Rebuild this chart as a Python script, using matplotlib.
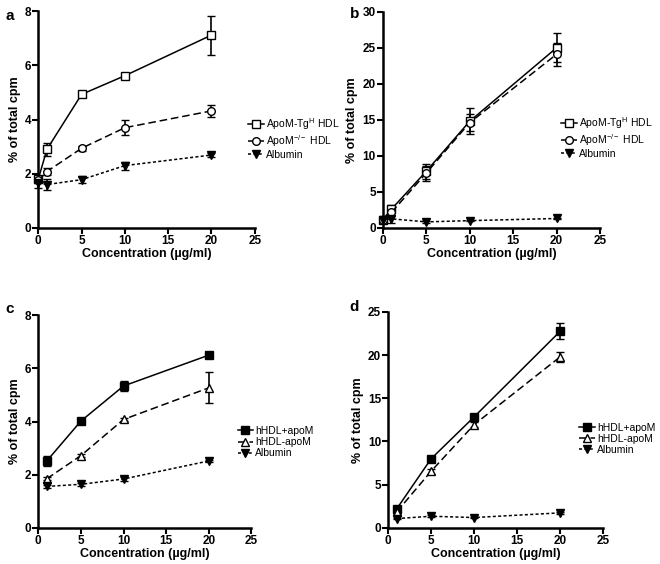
import matplotlib
matplotlib.use("Agg")
import matplotlib.pyplot as plt

plt.rcParams['font.family'] = ['Liberation Sans', 'DejaVu Sans']

# panel a
xa = [0, 1, 5, 10, 20]
a_tg = [1.8, 2.9, 4.93, 5.62, 7.12]
a_tg_err = [0.1, 0.25, 0.1, 0.08, 0.72]
a_ko = [1.75, 2.08, 2.94, 3.7, 4.32]
a_ko_err = [0.1, 0.12, 0.1, 0.27, 0.22]
a_alb = [1.67, 1.6, 1.78, 2.3, 2.69]
a_alb_err = [0.2, 0.22, 0.12, 0.15, 0.08]

# panel b
xb = [0, 1, 5, 10, 20]
b_tg = [1.15, 2.6, 7.85, 14.8, 25.0]
b_tg_err = [0.3, 0.6, 1.05, 1.8, 2.0]
b_ko = [1.1, 2.15, 7.6, 14.6, 24.1]
b_ko_err = [0.3, 0.5, 1.05, 1.2, 1.6]
b_alb = [1.05, 1.25, 0.83, 1.0, 1.3]
b_alb_err = [0.2, 0.6, 0.1, 0.1, 0.1]

# panel c
xc = [1, 5, 10, 20]
c_plus = [2.52, 4.02, 5.34, 6.5]
c_plus_err = [0.2, 0.1, 0.19, 0.08]
c_minus = [1.85, 2.72, 4.08, 5.27]
c_minus_err = [0.05, 0.05, 0.05, 0.58]
c_alb = [1.56, 1.64, 1.84, 2.52]
c_alb_err = [0.05, 0.05, 0.06, 0.05]

# panel d
xd = [1, 5, 10, 20]
d_plus = [2.2, 8.0, 12.85, 22.76]
d_plus_err = [0.2, 0.2, 0.2, 0.9]
d_minus = [1.85, 6.56, 11.95, 19.8]
d_minus_err = [0.2, 0.3, 0.3, 0.6]
d_alb = [1.08, 1.35, 1.2, 1.74]
d_alb_err = [0.1, 0.1, 0.1, 0.1]

labels_ab = ['ApoM-Tg$^{\\mathregular{H}}$ HDL', 'ApoM$^{\\mathregular{-/-}}$ HDL', 'Albumin']
labels_cd = ['hHDL+apoM', 'hHDL-apoM', 'Albumin']

fig = plt.figure(figsize=(6.6, 5.64), dpi=100)

# tag, axes rect, tag position, x, series, labels, markers, filled, ymax, ystep, legend anchor
panels = [
    ('a', [0.058, 0.596, 0.328, 0.384], (0.008, 0.972), xa,
     [(a_tg, a_tg_err), (a_ko, a_ko_err), (a_alb, a_alb_err)],
     labels_ab, ['s', 'o', 'v'], [False, False, True], 8, 2, (0.368, 0.755)),
    ('b', [0.580, 0.596, 0.329, 0.383], (0.530, 0.975), xb,
     [(b_tg, b_tg_err), (b_ko, b_ko_err), (b_alb, b_alb_err)],
     labels_ab, ['s', 'o', 'v'], [False, False, True], 30, 5, (0.842, 0.757)),
    ('c', [0.058, 0.064, 0.323, 0.377], (0.008, 0.452), xc,
     [(c_plus, c_plus_err), (c_minus, c_minus_err), (c_alb, c_alb_err)],
     labels_cd, ['s', '^', 'v'], [True, False, True], 8, 2, (0.352, 0.216)),
    ('d', [0.588, 0.064, 0.326, 0.383], (0.530, 0.456), xd,
     [(d_plus, d_plus_err), (d_minus, d_minus_err), (d_alb, d_alb_err)],
     labels_cd, ['s', '^', 'v'], [True, False, True], 25, 5, (0.870, 0.222)),
]

styles = ['-', (0, (5, 2.5)), (0, (2, 1.5))]

for tag, rect, tagpos, x, series, labels, markers, filled, ymax, ystep, legpos in panels:
    ax = fig.add_axes(rect)
    handles = []
    for (y, e), lab, m, fl, ls in zip(series, labels, markers, filled, styles):
        h = ax.errorbar(x, y, yerr=e, color='k', linestyle=ls, linewidth=1.1,
                        marker=m, markersize=5.5,
                        markerfacecolor='k' if fl else 'white',
                        markeredgecolor='k', markeredgewidth=1.0,
                        ecolor='k', elinewidth=1.2, capsize=3, capthick=1.2,
                        clip_on=False, zorder=3)
        for part in h.lines[1] + h.lines[2]:
            part.set_clip_on(False)
        h[0].set_label(lab)
        handles.append(h[0])
    ax.set_xlim(0, 25)
    ax.set_ylim(0, ymax)
    ax.set_xticks(range(0, 26, 5))
    ax.set_yticks(range(0, ymax + 1, ystep))
    for s in ['top', 'right']:
        ax.spines[s].set_visible(False)
    for s in ['left', 'bottom']:
        ax.spines[s].set_linewidth(1.8)
    ax.tick_params(direction='out', length=4, width=1.5, labelsize=8.5, pad=1)
    for t in ax.get_xticklabels() + ax.get_yticklabels():
        t.set_fontweight('bold')
    ax.set_xlabel('Concentration (µg/ml)', fontsize=9, fontweight='bold', labelpad=1)
    ax.set_ylabel('% of total cpm', fontsize=9, fontweight='bold', labelpad=3)
    ax.legend(handles=handles, loc='center left', bbox_to_anchor=legpos,
              bbox_transform=fig.transFigure, frameon=False, fontsize=7.5,
              handlelength=1.5, handletextpad=0.2, labelspacing=0.1, borderpad=0)
    fig.text(tagpos[0], tagpos[1], tag, fontsize=11, fontweight='bold',
             va='center', ha='left')

fig.savefig('out.png', dpi=100)
